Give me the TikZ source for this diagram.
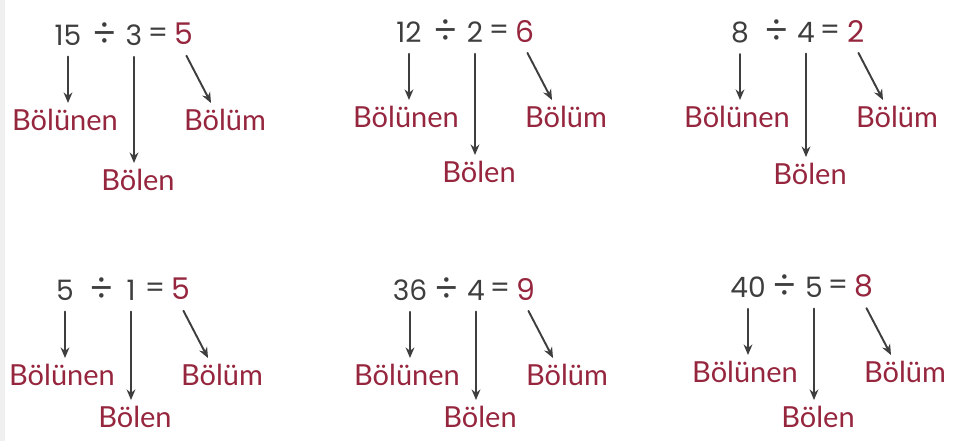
\documentclass[tikz,border=0pt]{standalone}
\usepackage{fontspec}
\usepackage{tikz}
\usetikzlibrary{calc}
\usetikzlibrary{arrows.meta}

\newfontfamily\sayifont{Poppins}
\newfontfamily\yazifont{Lato}
\definecolor{kalem}{RGB}{150,38,62}
\definecolor{kursun}{RGB}{62,62,62}

\begin{document}
\begin{tikzpicture}[
				x=0.02cm,
				y=-0.02cm,
				line cap=round,
				line join=round,
				sayi/.style={text=kursun, font=\sayifont\fontsize{16}{18}\selectfont},
				isaret/.style={text=kursun, font=\sayifont\fontsize{21}{23}\selectfont},
				cevap/.style={text=kalem, font=\sayifont\fontsize{17}{19}\selectfont},
				etiket/.style={text=kalem, font=\yazifont\fontsize{16.5}{18}\selectfont},
				ok/.style={draw=kursun, line width=1.1pt, -{Stealth[length=6pt,width=5pt]}, shorten <=3pt}
				]
				% page
				\useasboundingbox (0,0) rectangle (953,441);
				\fill[gray!12] (0,0) rectangle (5,441);
				
				% Six divisions (\h: depth of the Bölen label)
				\foreach \i/\x/\y/\h/\a/\b/\c in {1/68/35/145/15/3/5, 2/409/32/140/12/2/6, 3/740/32/142/8/4/2,
					4/65/290/127/5/1/5, 5/410/290/127/36/4/9, 6/748/287/130/40/5/8}{
					\node[sayi] (a\i) at (\x,\y) {\a};
					\node[isaret] (bol\i) at (\x+37,\y) {÷};
					\node[sayi] (b\i) at (\x+66,\y) {\b};
					\node[sayi] (esit\i) at (\x+90,\y) {=};
					\node[cevap] (c\i) at (\x+116,\y-1) {\c};
					
					\node[etiket] (n\i) at (\x-3,\y+85) {Bölünen};
					\node[etiket] (l\i) at (\x+70,\y+\h) {Bölen};
					\node[etiket] (q\i) at (\x+157,\y+85) {Bölüm};
					
					\draw[ok] (a\i.south) -- (a\i.south |- n\i.north);
					\draw[ok] (b\i.south) -- (b\i.south |- l\i.north);
					\draw[ok] (c\i.south) -- ($(q\i.north)+(-14,0)$);
				}
			\end{tikzpicture}
\end{document}
